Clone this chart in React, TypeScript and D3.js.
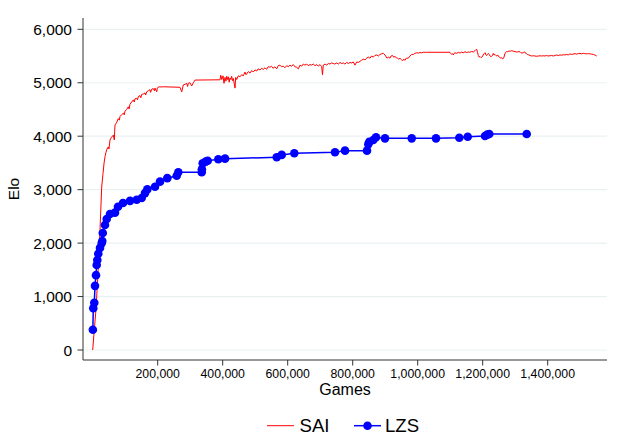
import { useRef, useEffect } from 'react';
import * as d3 from 'd3';

// SAI: games played vs Elo
const saiGames = [
  0, 5000, 10000, 17000, 22500, 27700, 31700, 35000, 38000, 41000, 44000, 48000, 50000, 53200, 57800, 63400, 66500,
  68600, 73200, 78800, 82000, 84000, 88600, 94200, 97000, 99400, 104600, 109500, 112000, 114800, 120000, 125000,
  128000, 130200, 135400, 138000, 140300, 145500, 148000, 150800, 155700, 160900, 163000, 166200, 171100, 176300,
  178000, 181500, 186500, 190000, 191700, 196900, 199000, 201900, 207100, 212300, 217200, 268600, 273900, 278800,
  284000, 289200, 292000, 294200, 299400, 304600, 309600, 314800, 391700, 394000, 397000, 400900, 404000, 407100,
  410000, 412300, 415000, 417200, 420000, 422500, 425000, 427700, 430000, 432600, 437900, 440000, 443100, 448000,
  453200, 458500, 463400, 468600, 472000, 478800, 484000, 489200, 494000, 499400, 504600, 509000, 514800, 520000,
  525000, 530200, 535000, 540000, 545600, 550000, 555700, 560000, 566200, 571000, 576300, 581000, 586500, 591000,
  596900, 602000, 607100, 612000, 617300, 622000, 627600, 632600, 637900, 643000, 648000, 653000, 658500, 663000,
  668600, 673000, 678800, 684000, 689200, 694000, 699400, 704600, 707000, 709500, 714800, 720000, 725000, 730200,
  735000, 740300, 745000, 750800, 756000, 761000, 766000, 771100, 776000, 781600, 787000, 791700, 797000, 801900,
  807100, 812300, 817000, 822500, 827000, 832600, 838000, 843100, 848000, 853200, 858000, 863400, 868000, 873900,
  879000, 884000, 889000, 894200, 899400, 905600, 910000, 914800, 918000, 922500, 926000, 930200, 934000, 937900,
  942000, 945500, 950000, 953200, 957000, 961000, 965000, 971100, 976300, 981000, 986500, 991000, 997000, 1002000,
  1007100, 1012000, 1017200, 1027700, 1099400, 1102000, 1104600, 1107000, 1109500, 1112000, 1114800, 1120000,
  1124900, 1130000, 1135400, 1140000, 1145600, 1150000, 1155700, 1160000, 1166200, 1171100, 1176300, 1179000,
  1181500, 1184000, 1186500, 1189000, 1191700, 1195000, 1197500, 1200000, 1203000, 1205000, 1208000, 1210000,
  1212300, 1215000, 1217300, 1220000, 1222500, 1225000, 1227700, 1230000, 1232600, 1235000, 1237900, 1240500,
  1243100, 1246000, 1248000, 1251000, 1253300, 1256000, 1258500, 1261000, 1263000, 1265600, 1268000, 1271000,
  1273900, 1277000, 1281000, 1285000, 1289300, 1294000, 1299400, 1304000, 1309000, 1314800, 1318000, 1321000,
  1325000, 1328000, 1330200, 1334000, 1337000, 1340300, 1345600, 1350800, 1356000, 1361000, 1366000, 1371000,
  1376400, 1381000, 1386000, 1391700, 1396000, 1401000, 1406900, 1412000, 1417000, 1422300, 1427000, 1432000,
  1437700, 1443000, 1448000, 1453000, 1458500, 1463000, 1468500, 1473000, 1478000, 1484000, 1489000, 1494000,
  1499400, 1504000, 1509500, 1514000, 1520000, 1525000, 1529800, 1535000, 1540300, 1545000, 1550800,
];
const saiElo = [
  0, 380, 750, 1500, 2250, 3050, 3300, 3500, 3620, 3700, 3760, 3800, 3760, 3930, 3980, 4020, 3930,
  4210, 4250, 4330, 4300, 4370, 4400, 4430, 4400, 4470, 4500, 4550, 4510, 4600, 4640, 4680,
  4640, 4700, 4710, 4680, 4740, 4760, 4720, 4780, 4790, 4810, 4770, 4830, 4850, 4870,
  4820, 4880, 4890, 4850, 4900, 4830, 4900, 4920, 4925, 4920, 4925, 4915, 4830, 4960,
  4970, 4990, 4930, 4990, 5000, 4940, 5000, 5050, 5055, 5140, 5060, 5130, 4990, 5100,
  5030, 5120, 5060, 5110, 5010, 5090, 5060, 5120, 5040, 5080, 4900, 5100, 5060, 5130,
  5110, 5150, 5130, 5200, 5150, 5210, 5180, 5230, 5200, 5240, 5220, 5260, 5240, 5270,
  5250, 5280, 5250, 5300, 5290, 5310, 5270, 5300, 5260, 5320, 5330, 5300, 5310, 5280,
  5320, 5300, 5330, 5310, 5340, 5300, 5290, 5260, 5330, 5310, 5350, 5330, 5350, 5320,
  5340, 5330, 5350, 5320, 5340, 5310, 5340, 5300, 5150, 5330, 5350, 5330, 5360, 5350,
  5370, 5360, 5350, 5370, 5350, 5380, 5360, 5370, 5350, 5380, 5360, 5380, 5370, 5390,
  5330, 5390, 5380, 5400, 5420, 5440, 5430, 5460, 5480, 5460, 5500, 5480, 5510, 5520,
  5500, 5530, 5540, 5550, 5520, 5460, 5480, 5460, 5500, 5510, 5480, 5490, 5470, 5460,
  5440, 5460, 5430, 5410, 5440, 5420, 5460, 5460, 5500, 5530, 5530, 5550, 5560, 5555,
  5565, 5560, 5570, 5570, 5570, 5550, 5530, 5545, 5520, 5550, 5560, 5550,
  5570, 5555, 5575, 5560, 5580, 5565, 5575, 5570, 5585, 5575, 5600, 5620,
  5625, 5570, 5510, 5480, 5490, 5470, 5480, 5500, 5540, 5550, 5560, 5520,
  5510, 5530, 5550, 5530, 5500, 5490, 5495, 5510, 5550, 5520, 5530, 5510,
  5500, 5520, 5500, 5480, 5470, 5460, 5470, 5450, 5450, 5480, 5540, 5570,
  5585, 5580, 5595, 5590, 5600, 5590, 5585, 5575, 5580, 5580, 5560, 5555,
  5560, 5580, 5560, 5550, 5530, 5525, 5510, 5500, 5505, 5500, 5495, 5500,
  5505, 5500, 5505, 5500, 5510, 5500, 5505, 5510, 5500, 5510, 5520, 5510,
  5520, 5515, 5525, 5520, 5530, 5520, 5540, 5530, 5535, 5545, 5535, 5545,
  5550, 5540, 5550, 5545, 5540, 5545, 5540, 5535, 5530, 5520, 5500,
];

// LZS: games played vs Elo
const lzsGames = [
  500, 1800, 4900, 7100, 10150, 12300, 14200, 17200, 22500, 27700, 29500, 31000, 37800, 43100, 53200, 68600,
  77800, 93200, 114800, 135400, 150800, 160900, 168000, 191700, 207100, 229500, 258500, 263400, 335400, 336000,
  338500, 347700, 353900, 386500, 407100, 566200, 581600, 620300, 745500, 776300, 844000, 848000, 851100,
  863400, 871700, 899400, 981600, 1056300, 1128000, 1153900, 1207100, 1214200, 1220300, 1335400,
];
const lzsElo = [
  380, 780, 885, 1200, 1400, 1590, 1685, 1800, 1910, 2000, 2040, 2190, 2340, 2450, 2545, 2570,
  2680, 2750, 2790, 2810, 2845, 2935, 3005, 3055, 3150, 3215, 3260, 3325, 3325, 3380,
  3495, 3525, 3540, 3570, 3580, 3605, 3650, 3680, 3700, 3730, 3730, 3850, 3895,
  3930, 3980, 3960, 3960, 3960, 3970, 3990, 4005, 4030, 4040, 4040,
];

const xTicks = [200000, 400000, 600000, 800000, 1000000, 1200000, 1400000];
const yTicks = [0, 1000, 2000, 3000, 4000, 5000, 6000];

const W = 619;
const H = 439;

const EloChart = () => {
  const svgRef = useRef<SVGSVGElement>(null);

  useEffect(() => {
    const svg = d3.select(svgRef.current);
    svg.selectAll('*').remove();

    const font = 'Liberation Sans, Arial, sans-serif';
    const x = d3.scaleLinear().domain([0, 1400000]).range([92.7, 547.7]);
    const y = d3.scaleLinear().domain([0, 6000]).range([350, 29.3]);
    const left = 83;
    const right = 607;
    const bottom = 360;
    const top = 18;

    svg.append('rect').attr('width', W).attr('height', H).attr('fill', '#fff');

    // grid
    svg.append('g')
      .selectAll('line')
      .data(yTicks)
      .enter()
      .append('line')
      .attr('x1', left)
      .attr('x2', right)
      .attr('y1', d => y(d))
      .attr('y2', d => y(d))
      .attr('stroke', '#eaf1f3')
      .attr('stroke-width', 1.2);

    const sai = saiGames.map((g, i) => [g, saiElo[i]] as [number, number]);
    const lzs = lzsGames.map((g, i) => [g, lzsElo[i]] as [number, number]);
    const line = d3.line<[number, number]>().x(d => x(d[0])).y(d => y(d[1]));

    svg.append('path')
      .datum(sai)
      .attr('d', line)
      .attr('fill', 'none')
      .attr('stroke', '#ff0000')
      .attr('stroke-width', 1);

    svg.append('path')
      .datum(lzs)
      .attr('d', line)
      .attr('fill', 'none')
      .attr('stroke', '#0000ff')
      .attr('stroke-width', 1.5);

    svg.append('g')
      .selectAll('circle')
      .data(lzs)
      .enter()
      .append('circle')
      .attr('cx', d => x(d[0]))
      .attr('cy', d => y(d[1]))
      .attr('r', 4.3)
      .attr('fill', '#0000ff');

    // axes
    const axisColor = '#333';
    svg.append('line').attr('x1', left).attr('x2', left).attr('y1', top).attr('y2', bottom)
      .attr('stroke', axisColor).attr('stroke-width', 1);
    svg.append('line').attr('x1', left).attr('x2', right).attr('y1', bottom).attr('y2', bottom)
      .attr('stroke', axisColor).attr('stroke-width', 1);

    const yg = svg.append('g');
    yg.selectAll('line')
      .data(yTicks)
      .enter()
      .append('line')
      .attr('x1', left - 5.5)
      .attr('x2', left)
      .attr('y1', d => y(d))
      .attr('y2', d => y(d))
      .attr('stroke', axisColor);
    yg.selectAll('text')
      .data(yTicks)
      .enter()
      .append('text')
      .attr('x', 72)
      .attr('y', d => y(d) + 5.5)
      .attr('text-anchor', 'end')
      .style('font-family', font)
      .style('font-size', '15.5px')
      .attr('fill', '#000')
      .text(d => d3.format(',')(d));

    const xg = svg.append('g');
    xg.selectAll('line')
      .data(xTicks)
      .enter()
      .append('line')
      .attr('x1', d => x(d))
      .attr('x2', d => x(d))
      .attr('y1', bottom)
      .attr('y2', bottom + 5.5)
      .attr('stroke', axisColor);
    xg.selectAll('text')
      .data(xTicks)
      .enter()
      .append('text')
      .attr('x', d => x(d))
      .attr('y', 377.5)
      .attr('text-anchor', 'middle')
      .style('font-family', font)
      .style('font-size', '12.3px')
      .attr('fill', '#000')
      .text(d => d3.format(',')(d));

    svg.append('text')
      .attr('x', (left + right) / 2)
      .attr('y', 394.5)
      .attr('text-anchor', 'middle')
      .style('font-family', font)
      .style('font-size', '16px')
      .text('Games');

    svg.append('text')
      .attr('transform', `translate(19,${(top + bottom) / 2}) rotate(-90)`)
      .attr('text-anchor', 'middle')
      .style('font-family', font)
      .style('font-size', '15.5px')
      .text('Elo');

    // legend
    const lg = svg.append('g');
    lg.append('line').attr('x1', 267).attr('x2', 294).attr('y1', 425.7).attr('y2', 425.7)
      .attr('stroke', '#ff0000').attr('stroke-width', 1);
    lg.append('text').attr('x', 299.5).attr('y', 432.3)
      .style('font-family', font).style('font-size', '18.6px').text('SAI');
    lg.append('line').attr('x1', 354).attr('x2', 381).attr('y1', 425.7).attr('y2', 425.7)
      .attr('stroke', '#0000ff').attr('stroke-width', 1.5);
    lg.append('circle').attr('cx', 367.5).attr('cy', 425.7).attr('r', 4.3).attr('fill', '#0000ff');
    lg.append('text').attr('x', 385).attr('y', 432.3)
      .style('font-family', font).style('font-size', '18.6px').text('LZS');
  }, []);

  return <svg ref={svgRef} width={W} height={H} style={{ position: 'absolute', left: 0, top: 0 }}></svg>;
};

export default function App() {
  return <EloChart />;
}
